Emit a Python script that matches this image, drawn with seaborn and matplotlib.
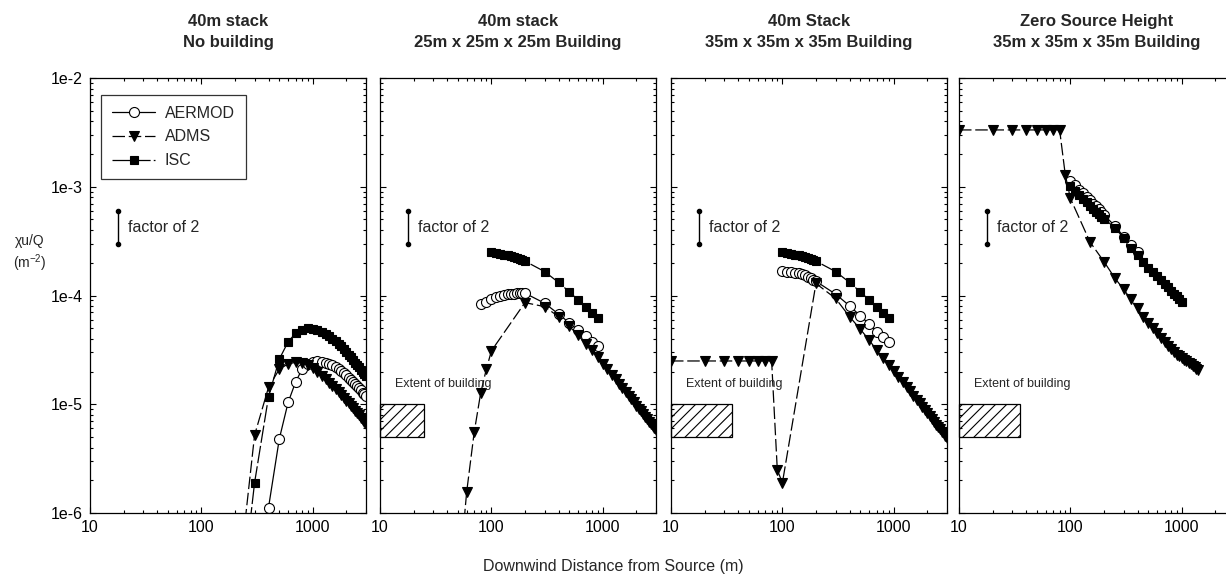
import matplotlib
matplotlib.use("Agg")
import matplotlib.pyplot as plt
from matplotlib.patches import Rectangle
from matplotlib.ticker import FixedLocator, LogLocator, NullFormatter
import seaborn as sns

# ---------------------------------------------------------------- data
panel_titles = [
    "40m stack\nNo building",
    "40m stack\n25m x 25m x 25m Building",
    "40m Stack\n35m x 35m x 35m Building",
    "Zero Source Height\n35m x 35m x 35m Building",
]
building_extent = [None, 25, 35, 35]          # downwind building length (m)
building_band = (5e-6, 1e-5)                   # vertical extent of the hatched box
factor_bar = (18, 3e-4, 6e-4)                  # x, low, high of the "factor of 2" bar

x_ticks = [10, 100, 1000]
x_tick_labels = ["10", "100", "1000"]
y_ticks = [1e-6, 1e-5, 1e-4, 1e-3, 1e-2]
y_tick_labels = ["1e-6", "1e-5", "1e-4", "1e-3", "1e-2"]

# Panel 1: 40 m stack, no building
p1_aermod_x = list(range(400, 3001, 100))
p1_aermod_y = [1.12e-6, 4.8e-6, 1.04e-5, 1.6e-5, 2.1e-5, 2.35e-5, 2.45e-5,
               2.48e-5, 2.46e-5, 2.42e-5, 2.36e-5, 2.28e-5, 2.2e-5, 2.11e-5,
               2.02e-5, 1.93e-5, 1.84e-5, 1.76e-5, 1.68e-5, 1.6e-5, 1.53e-5,
               1.46e-5, 1.4e-5, 1.34e-5, 1.28e-5, 1.23e-5, 1.18e-5]
p1_adms_x = list(range(200, 3001, 100))
p1_adms_y = [1.2e-7, 5.2e-6, 1.43e-5, 2.1e-5, 2.35e-5, 2.43e-5, 2.42e-5,
             2.3e-5, 2.15e-5, 1.98e-5, 1.83e-5, 1.7e-5, 1.58e-5, 1.48e-5,
             1.39e-5, 1.3e-5, 1.22e-5, 1.15e-5, 1.08e-5, 1.02e-5, 9.7e-6,
             9.2e-6, 8.7e-6, 8.3e-6, 7.9e-6, 7.5e-6, 7.2e-6, 6.9e-6, 6.6e-6]
p1_isc_x = list(range(200, 3001, 100))
p1_isc_y = [5e-8, 1.9e-6, 1.17e-5, 2.6e-5, 3.75e-5, 4.5e-5, 4.85e-5, 5.0e-5,
            4.95e-5, 4.8e-5, 4.6e-5, 4.4e-5, 4.2e-5, 4.0e-5, 3.8e-5, 3.6e-5,
            3.4e-5, 3.2e-5, 3.0e-5, 2.85e-5, 2.7e-5, 2.55e-5, 2.42e-5, 2.3e-5,
            2.18e-5, 2.07e-5, 1.97e-5, 1.88e-5, 1.8e-5]

# Panel 2: 40 m stack, 25 m building
p2_aermod_x = list(range(80, 201, 10)) + list(range(300, 901, 100))
p2_aermod_y = [8.35e-5, 8.77e-5, 9.22e-5, 9.6e-5, 9.9e-5, 1.01e-4, 1.025e-4,
               1.03e-4, 1.04e-4, 1.045e-4, 1.05e-4, 1.05e-4, 1.05e-4,
               8.5e-5, 6.76e-5, 5.6e-5, 4.8e-5, 4.25e-5, 3.76e-5, 3.43e-5]
p2_adms_x = [50, 60, 70, 80, 90, 100] + list(range(200, 3001, 100))
p2_adms_y = [2e-7, 1.57e-6, 5.5e-6, 1.26e-5, 2.1e-5, 3.1e-5,
             8.6e-5, 7.9e-5, 6.4e-5, 5.2e-5, 4.3e-5, 3.6e-5, 3.16e-5, 2.7e-5,
             2.36e-5, 2.09e-5, 1.87e-5, 1.69e-5, 1.53e-5, 1.40e-5, 1.29e-5,
             1.20e-5, 1.11e-5, 1.04e-5, 9.7e-6, 9.1e-6, 8.6e-6, 8.1e-6,
             7.7e-6, 7.3e-6, 6.9e-6, 6.6e-6, 6.3e-6, 6.0e-6, 5.8e-6]
p2_isc_x = list(range(100, 201, 10)) + list(range(300, 901, 100))
p2_isc_y = [2.5e-4, 2.46e-4, 2.42e-4, 2.38e-4, 2.34e-4, 2.3e-4, 2.26e-4,
            2.21e-4, 2.17e-4, 2.12e-4, 2.07e-4,
            1.66e-4, 1.32e-4, 1.08e-4, 9.1e-5, 7.9e-5, 6.95e-5, 6.2e-5]

# Panel 3: 40 m stack, 35 m building
p3_aermod_x = list(range(100, 201, 10)) + list(range(300, 901, 100))
p3_aermod_y = [1.68e-4, 1.66e-4, 1.64e-4, 1.62e-4, 1.6e-4, 1.57e-4, 1.53e-4,
               1.49e-4, 1.45e-4, 1.4e-4, 1.35e-4,
               1.03e-4, 8.05e-5, 6.5e-5, 5.47e-5, 4.65e-5, 4.12e-5, 3.71e-5]
p3_adms_x = list(range(10, 101, 10)) + list(range(200, 3001, 100))
p3_adms_y = [2.5e-5, 2.5e-5, 2.5e-5, 2.5e-5, 2.5e-5, 2.5e-5, 2.5e-5, 2.5e-5,
             2.48e-6, 1.9e-6,
             1.29e-4, 9.4e-5, 6.4e-5, 4.9e-5, 3.9e-5, 3.15e-5, 2.64e-5, 2.3e-5,
             2.01e-5, 1.78e-5, 1.59e-5, 1.44e-5, 1.31e-5, 1.19e-5, 1.10e-5,
             1.02e-5, 9.5e-6, 8.8e-6, 8.3e-6, 7.8e-6, 7.3e-6, 6.9e-6, 6.5e-6,
             6.2e-6, 5.9e-6, 5.6e-6, 5.4e-6, 5.1e-6, 4.9e-6]
p3_isc_x = list(range(100, 201, 10)) + list(range(300, 901, 100))
p3_isc_y = [2.5e-4, 2.46e-4, 2.42e-4, 2.38e-4, 2.34e-4, 2.3e-4, 2.26e-4,
            2.21e-4, 2.17e-4, 2.12e-4, 2.07e-4,
            1.66e-4, 1.32e-4, 1.08e-4, 9.1e-5, 7.9e-5, 6.95e-5, 6.2e-5]

# Panel 4: ground-level source, 35 m building
p4_aermod_x = list(range(100, 201, 10)) + [250, 300, 350, 400]
p4_aermod_y = [1.14e-3, 1.03e-3, 9.4e-4, 8.7e-4, 8.1e-4, 7.5e-4, 7.0e-4,
               6.6e-4, 6.2e-4, 5.85e-4, 5.5e-4, 4.38e-4, 3.48e-4, 2.91e-4,
               2.49e-4]
p4_adms_x = list(range(10, 91, 10)) + list(range(100, 1401, 50))
p4_adms_y = [3.33e-3, 3.33e-3, 3.33e-3, 3.33e-3, 3.33e-3, 3.33e-3, 3.33e-3,
             3.33e-3, 1.28e-3,
             7.8e-4, 3.1e-4, 2.05e-4, 1.45e-4, 1.14e-4, 9.2e-5, 7.6e-5, 6.4e-5,
             5.55e-5, 5.0e-5, 4.5e-5, 4.1e-5, 3.75e-5, 3.45e-5, 3.2e-5, 3.0e-5,
             2.85e-5, 2.75e-5, 2.66e-5, 2.57e-5, 2.49e-5, 2.41e-5, 2.34e-5,
             2.27e-5, 2.2e-5, 2.13e-5, 2.07e-5]
p4_isc_x = list(range(100, 201, 10)) + list(range(250, 1001, 50))
p4_isc_y = [1.02e-3, 9.2e-4, 8.4e-4, 7.75e-4, 7.2e-4, 6.7e-4, 6.3e-4, 5.9e-4,
            5.6e-4, 5.3e-4, 5.1e-4,
            4.2e-4, 3.4e-4, 2.75e-4, 2.35e-4, 2.05e-4, 1.8e-4, 1.64e-4, 1.5e-4,
            1.38e-4, 1.28e-4, 1.19e-4, 1.11e-4, 1.04e-4, 9.8e-5, 9.3e-5, 8.8e-5]

panels = [
    (p1_aermod_x, p1_aermod_y, p1_adms_x, p1_adms_y, p1_isc_x, p1_isc_y),
    (p2_aermod_x, p2_aermod_y, p2_adms_x, p2_adms_y, p2_isc_x, p2_isc_y),
    (p3_aermod_x, p3_aermod_y, p3_adms_x, p3_adms_y, p3_isc_x, p3_isc_y),
    (p4_aermod_x, p4_aermod_y, p4_adms_x, p4_adms_y, p4_isc_x, p4_isc_y),
]

# ---------------------------------------------------------------- style
sns.set_style("ticks")
plt.rcParams["font.family"] = ["Liberation Sans", "DejaVu Sans"]
plt.rcParams["mathtext.fontset"] = "custom"
plt.rcParams["mathtext.rm"] = "Liberation Sans"
plt.rcParams["mathtext.it"] = "Liberation Sans"
plt.rcParams["hatch.linewidth"] = 0.8

W, H = 1226, 585
fig = plt.figure(figsize=(W / 100, H / 100), dpi=100)
fig.patch.set_facecolor("white")

ax_left_px = [90, 380, 671, 959]
ax_w_px, ax_top_px, ax_bot_px = 276, 78, 513

series_style = {
    "AERMOD": dict(marker="o", markersize=7.2, markerfacecolor="white",
                   linestyle="-"),
    "ADMS": dict(marker="v", markersize=6.8, markerfacecolor="black",
                 linestyle=(0, (10, 3))),
    "ISC": dict(marker="s", markersize=6.2, markerfacecolor="black",
                linestyle=(0, (14, 2.5))),
}

axes = []
for i, left in enumerate(ax_left_px):
    ax = fig.add_axes([left / W, (H - ax_bot_px) / H, ax_w_px / W,
                       (ax_bot_px - ax_top_px) / H])
    axes.append(ax)
    ax.set_xscale("log")
    ax.set_yscale("log")

    ax_x, ax_y, ad_x, ad_y, is_x, is_y = panels[i]
    for name, xs, ys in (("AERMOD", ax_x, ax_y), ("ADMS", ad_x, ad_y),
                         ("ISC", is_x, is_y)):
        st = series_style[name]
        sns.lineplot(x=xs, y=ys, ax=ax, color="black", linewidth=0.9,
                     linestyle=st["linestyle"], marker=st["marker"],
                     markersize=st["markersize"],
                     markerfacecolor=st["markerfacecolor"],
                     markeredgecolor="black", markeredgewidth=0.8,
                     estimator=None, sort=False, errorbar=None, label=name,
                     legend=False)

    ax.set_xlim(10, 3000)
    ax.set_ylim(1e-6, 1e-2)

    # "factor of 2" reference bar
    fx, flo, fhi = factor_bar
    ax.plot([fx, fx], [flo, fhi], color="black", lw=1.0, marker="o",
            markersize=3)
    ax.text(fx * 1.22, (flo * fhi) ** 0.5, "factor of 2", fontsize=11.5,
            va="center", ha="left")

    # hatched building extent
    if building_extent[i] is not None:
        b_lo, b_hi = building_band
        ax.add_patch(Rectangle((10, b_lo), building_extent[i] - 10,
                               b_hi - b_lo, fill=False, hatch="///",
                               edgecolor="black", lw=0.9, clip_on=False))
        ax.text(13.5, 1.55e-5, "Extent of building", fontsize=9,
                va="center", ha="left")

    # ticks
    ax.xaxis.set_major_locator(FixedLocator(x_ticks))
    ax.set_xticklabels(x_tick_labels)
    ax.xaxis.set_minor_locator(LogLocator(base=10, subs=range(2, 10)))
    ax.xaxis.set_minor_formatter(NullFormatter())
    ax.yaxis.set_major_locator(FixedLocator(y_ticks))
    ax.yaxis.set_minor_locator(LogLocator(base=10, subs=range(2, 10)))
    ax.yaxis.set_minor_formatter(NullFormatter())
    if i == 0:
        ax.set_yticklabels(y_tick_labels)
    else:
        ax.set_yticklabels([])
    ax.tick_params(which="both", direction="in", top=True, right=True,
                   labelsize=11.5, width=0.8, colors="black", pad=5)
    ax.tick_params(which="major", length=4)
    ax.tick_params(which="minor", length=2.4)
    for sp in ax.spines.values():
        sp.set_visible(True)
        sp.set_linewidth(0.9)
        sp.set_color("black")

    ax.set_title(panel_titles[i], fontsize=12, fontweight="bold", pad=22,
                 linespacing=1.55)

# legend in the first panel
leg_handles = axes[0].get_lines()[:3]
leg = axes[0].legend(handles=leg_handles,
                     labels=["AERMOD", "ADMS", "ISC"],
                     loc="upper left", bbox_to_anchor=(0.04, 0.962),
                     fontsize=11.5, frameon=True, fancybox=False,
                     handlelength=2.7, handletextpad=0.6, borderpad=0.7,
                     labelspacing=0.55, borderaxespad=0)
leg.get_frame().set_edgecolor("black")
leg.get_frame().set_linewidth(0.9)

fig.text(30 / W, 1 - 254 / H, "\u03c7u/Q\n(m$^{-2}$)", fontsize=10,
         ha="center", va="center", linespacing=1.25)
fig.text(613 / W, 1 - 566 / H, "Downwind Distance from Source (m)",
         fontsize=11.5, ha="center", va="center")

fig.savefig("out.png", dpi=100)
